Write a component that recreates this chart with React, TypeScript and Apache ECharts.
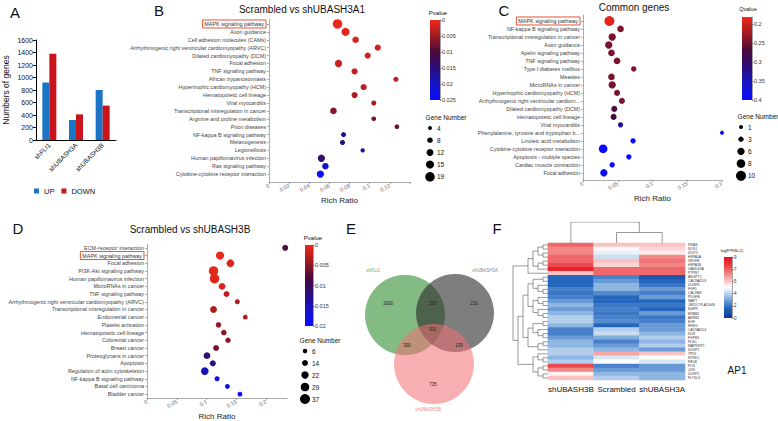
import React, { useEffect, useRef } from 'react';
import * as echarts from 'echarts';

const FONT = "'Liberation Sans', Arial, Helvetica, sans-serif";

// ---------- Panel A ----------
const aCategories = ['shFLI1', 'shUBASH3A', 'shUBASH3B'];
const aUp = [920, 320, 800];
const aDown = [1380, 410, 550];

// ---------- Panel B ----------
const bNames = [
  'MAPK signaling pathway', 'Axon guidance', 'Cell adhesion molecules (CAMs)',
  'Arrhythmogenic right ventricular cardiomyopathy (ARVC)', 'Dilated cardiomyopathy (DCM)',
  'Focal adhesion', 'TNF signaling pathway', 'African trypanosomiasis',
  'Hypertrophic cardiomyopathy (HCM)', 'Hematopoietic cell lineage', 'Viral myocarditis',
  'Transcriptional misregulation in cancer', 'Arginine and proline metabolism', 'Prion diseases',
  'NF-kappa B signaling pathway', 'Melanogenesis', 'Legionellosis',
  'Human papillomavirus infection', 'Ras signaling pathway', 'Cytokine-cytokine receptor interaction',
];
const bRich = [0.068, 0.076, 0.086, 0.108, 0.098, 0.069, 0.085, 0.126, 0.094, 0.085, 0.104, 0.064, 0.104, 0.127, 0.074, 0.073, 0.093, 0.052, 0.056, 0.051];
const bGenes = [19, 15, 11, 10, 10, 13, 10, 7, 10, 10, 7, 11, 6, 6, 7, 7, 5, 13, 11, 13];
const bPvalue = [0.0003, 0.0012, 0.0015, 0.002, 0.002, 0.0022, 0.003, 0.003, 0.0032, 0.004, 0.0045, 0.0065, 0.0075, 0.008, 0.016, 0.016, 0.017, 0.0135, 0.0205, 0.0245];
const bXTicks = [0, 0.02, 0.04, 0.06, 0.08, 0.1, 0.12, 0.14];
const bXLabels = [0, 0.02, 0.04, 0.06, 0.08, 0.1, 0.12];
const bPTicks = [0, 0.005, 0.01, 0.015, 0.02, 0.025];
const bSizeTicks = [4, 8, 12, 15, 19];

// ---------- Panel C ----------
const cNames = [
  'MAPK signaling pathway', 'NF-kappa B signaling pathway', 'Transcriptional misregulation in cancer',
  'Axon guidance', 'Apelin signaling pathway', 'TNF signaling pathway', 'Type I diabetes mellitus',
  'Measles', 'MicroRNAs in cancer', 'Hypertrophic cardiomyopathy (HCM)',
  'Arrhythmogenic right ventricular cardiom...', 'Dilated cardiomyopathy (DCM)',
  'Hematopoietic cell lineage', 'Viral myocarditis', 'Phenylalanine, tyrosine and tryptophan b...',
  'Linoleic acid metabolism', 'Cytokine-cytokine receptor interaction', 'Apoptosis - multiple species',
  'Cardiac muscle contraction', 'Focal adhesion',
];
const cRich = [0.038, 0.054, 0.042, 0.037, 0.041, 0.049, 0.073, 0.041, 0.042, 0.049, 0.056, 0.045, 0.044, 0.054, 0.2, 0.072, 0.029, 0.066, 0.042, 0.03];
const cGenes = [10, 5, 6, 6, 5, 5, 3, 5, 6, 4, 4, 4, 4, 3, 1, 3, 8, 3, 3, 6];
const cQvalue = [0.19, 0.245, 0.245, 0.245, 0.245, 0.245, 0.245, 0.245, 0.245, 0.245, 0.245, 0.27, 0.27, 0.33, 0.4, 0.4, 0.4, 0.4, 0.4, 0.4];
const cXTicks = [0, 0.05, 0.1, 0.15, 0.2];
const cQTicks = [0.2, 0.25, 0.3, 0.35, 0.4];
const cSizeTicks = [1, 3, 6, 8, 10];

// ---------- Panel D ----------
const dNames = [
  'ECM-receptor interaction', 'MAPK signaling pathway', 'Focal adhesion', 'PI3K-Akt signaling pathway',
  'Human papillomavirus infection', 'MicroRNAs in cancer', 'TNF signaling pathway',
  'Arrhythmogenic right ventricular cardiomyopathy (ARVC)', 'Transcriptional misregulation in cancer',
  'Endometrial cancer', 'Platelet activation', 'Hematopoietic cell lineage', 'Colorectal cancer',
  'Breast cancer', 'Proteoglycans in cancer', 'Apoptosis', 'Regulation of actin cytoskeleton',
  'NF-kappa B signaling pathway', 'Basal cell carcinoma', 'Bladder cancer',
];
const dRich = [0.232, 0.1226, 0.14, 0.1117, 0.1133, 0.126, 0.1335, 0.1516, 0.1117, 0.165, 0.12, 0.129, 0.136, 0.116, 0.1007, 0.1105, 0.097, 0.1177, 0.135, 0.156];
const dGenes = [14, 27, 24, 34, 34, 19, 14, 9, 19, 8, 12, 12, 11, 14, 19, 14, 24, 9, 8, 8];
const dPvalue = [0.008, 0.0003, 0.0008, 0.0006, 0.0008, 0.0012, 0.0025, 0.003, 0.0035, 0.003, 0.0045, 0.005, 0.005, 0.006, 0.011, 0.012, 0.015, 0.0175, 0.0185, 0.0195];
const dXTicks = [0, 0.05, 0.1, 0.15, 0.2];
const dPTicks = [0, 0.005, 0.01, 0.015, 0.02];
const dSizeTicks = [6, 14, 22, 29, 37];

// ---------- Panel E ----------
const vennSets = ['shFLI1', 'shUBASH3A', 'shUBASH3B'];
// FLI1 only, FLI1∩3A, 3A only, all three, FLI1∩3B, 3A∩3B, 3B only
const vennCounts = [1000, 530, 216, 911, 390, 139, 735];

// ---------- Panel F ----------
const hmColumns = ['shUBASH3B', 'Scrambled', 'shUBASH3A'];
const hmGenes = [
  'RRAS', 'SOS1', 'DDIT3', 'HSPA1A', 'VEGFB', 'HSPA1B', 'GADD45A', 'PTPN7', 'ANGPT2', 'CACNA2D3',
  'DUSP6', 'FGF5', 'CACNB3', 'PDGFB', 'MAPT', 'JMJD7-PLA2G4B', 'NGFR', 'ERBB2', 'ARRB1', 'EGF',
  'EREG', 'CACNA2D4', 'KDR', 'FGFR4', 'FLNC', 'MAPK8IP1', 'DUSP2', 'TP53', 'NTRK1', 'RELB',
  'FOS', 'JUN', 'DUSP1', 'FLT3LG',
];
const hm3B = [7, 6.5, 6.5, 7, 7, 7.5, 8.5, 5.5, 1.5, 1.5, 1.5, 2, 1.8, 2, 2.5, 3, 2.5, 3, 3.5, 3.5, 3, 2, 2, 2.5, 3, 3, 3.5, 3.5, 3, 3.5, 7.5, 6.5, 4.7, 5.5];
const hmScr = [5.5, 4.6, 4.2, 3.8, 5.5, 5.2, 7, 7, 2, 2.5, 3, 3, 2.2, 1.5, 1.5, 1.8, 2, 1.8, 2, 2.2, 1.5, 3.5, 3.8, 2.8, 2, 2.5, 3, 6, 4, 4.5, 2, 2.5, 3, 3.5];
const hm3A = [5.5, 5.2, 4.8, 6.5, 6.8, 6.5, 7, 7, 1, 1.5, 1.8, 2.5, 2, 2.5, 1.5, 1.8, 1.5, 2.5, 1.8, 2, 2.5, 2.5, 3, 3.5, 3, 3.5, 2.5, 5.5, 4.5, 4, 2.5, 2.5, 3, 3];
const hmTicks = [0, 1.8, 3.6, 5.4, 7.2, 9];
// clustering trees (leaf = row / column index)
const rowTree: any = [
  [[[[0, 1], [2, 3]], [[4, 5], 6]], 7],
  [
    [
      [[[8, 9], [10, [11, 12]]], [[13, [14, 15]], [16, [17, 18]]]],
      [[[19, 20], [21, [22, 23]]], [[24, 25], 26]],
    ],
    [[27, [28, 29]], [[30, 31], [32, 33]]],
  ],
];
const colTree: any = [0, [1, 2]];

const HIGHLIGHT = 'MAPK signaling pathway';
const PCOLORS = ['#f0281a', '#a01a22', '#4a0a3a', '#2c0c7a', '#1414c8', '#0a0aff'];
const HCOLORS = ['#0a3a8e', '#2566bd', '#8db6e2', '#ffffff', '#f5a5a5', '#ec4a4e', '#e60d1a'];

const sizeB = (g: number) => 4 + ((g - 4) / 15) * 5.5;
const sizeC = (g: number) => 4 + ((g - 1) / 9) * 6;
const sizeD = (g: number) => 4.5 + ((g - 6) / 31) * 5.5;

function buildOption() {
  const grid: any[] = [];
  const xAxis: any[] = [];
  const yAxis: any[] = [];
  const series: any[] = [];
  const visualMap: any[] = [];
  const graphic: any[] = [];

  const addGrid = (left: number, top: number, width: number, height: number) => {
    grid.push({ left, top, width, height, containLabel: false });
    return grid.length - 1;
  };
  const addText = (x: number, y: number, s: string, fontSize: number, fill = '#111') => {
    graphic.push({
      type: 'text', x, y, silent: true,
      style: { text: s, fontSize, fontFamily: FONT, fill, align: 'center', verticalAlign: 'middle', textAlign: 'center', textVerticalAlign: 'middle' },
    });
  };
  const gray = { color: '#8a8a8a', width: 0.7 };

  // ----- Panel A -----
  {
    const g = addGrid(32, 40, 84, 100);
    const xi = xAxis.length;
    xAxis.push({
      gridIndex: g, type: 'category', data: aCategories,
      axisLine: { lineStyle: { color: '#000', width: 1 } }, axisTick: { show: false },
      axisLabel: { rotate: 45, fontSize: 6.5, color: '#111', margin: 4, fontFamily: FONT, interval: 0 },
    });
    const yi = yAxis.length;
    yAxis.push({
      gridIndex: g, type: 'value', min: 0, max: 1600, interval: 200,
      name: 'Numbers of genes', nameLocation: 'middle', nameGap: 26,
      nameTextStyle: { fontSize: 8.5, color: '#111', fontFamily: FONT },
      axisLine: { show: true, lineStyle: { color: '#000', width: 1 } },
      axisTick: { show: true, length: 3, lineStyle: { color: '#000' } },
      axisLabel: { fontSize: 7, color: '#111', margin: 3, fontFamily: FONT, formatter: (v: number) => String(v) },
      splitLine: { show: false },
    });
    series.push({ type: 'bar', name: 'UP', xAxisIndex: xi, yAxisIndex: yi, data: aUp, barWidth: 7, barGap: '0%', itemStyle: { color: '#1b75c4' } });
    series.push({ type: 'bar', name: 'DOWN', xAxisIndex: xi, yAxisIndex: yi, data: aDown, barWidth: 7, barGap: '0%', itemStyle: { color: '#c9141c' } });
  }

  // ----- bubble panel helper -----
  const bubble = (p: any) => {
    const g = addGrid(p.left, p.top, p.width, p.height);
    const idx = p.names.map((_: string, i: number) => i);
    const xi = xAxis.length;
    xAxis.push({
      gridIndex: g, type: 'value', min: 0, max: p.xMax,
      name: 'Rich Ratio', nameLocation: 'middle', nameGap: 14,
      nameTextStyle: { fontSize: 8, color: '#222', fontFamily: FONT },
      axisLine: { show: true, onZero: false, lineStyle: gray },
      axisTick: { show: true, customValues: p.xTicks, length: 2, lineStyle: gray },
      axisLabel: { customValues: p.xLabels, rotate: 30, fontSize: 5.5, color: '#666', margin: 3, fontFamily: FONT },
      splitLine: { show: false },
    });
    const yi = yAxis.length;
    yAxis.push({
      gridIndex: g, type: 'value', inverse: true, min: p.yMin, max: p.yMax,
      axisLine: { show: true, onZero: false, lineStyle: gray },
      axisTick: { show: true, customValues: idx, length: 2, lineStyle: gray },
      axisLabel: {
        customValues: idx, fontSize: 5.4, lineHeight: 6, color: '#444', margin: 3, fontFamily: FONT,
        showMinLabel: true, showMaxLabel: true,
        formatter: (v: number) => {
          const n = p.names[Math.round(v)] || '';
          return n === HIGHLIGHT ? `{box|${n}}` : n;
        },
        rich: { box: { fontSize: 5.4, lineHeight: 6, color: '#333', fontFamily: FONT, borderColor: '#e0553a', borderWidth: 1, padding: [1.5, 2, 1.5, 2] } },
      },
      splitLine: { show: false },
    });
    const si = series.length;
    series.push({
      type: 'scatter', xAxisIndex: xi, yAxisIndex: yi, clip: false,
      data: p.names.map((_: string, i: number) => [p.rich[i], i, p.genes[i], p.color[i]]),
      symbolSize: (d: number[]) => p.size(d[2]),
      itemStyle: { opacity: 1 },
    });
    visualMap.push({ type: 'continuous', show: false, seriesIndex: si, dimension: 3, min: p.cMin, max: p.cMax, inRange: { color: PCOLORS } });
  };

  const colorbar = (l: number, t: number, w: number, h: number, min: number, max: number, inverse: boolean, colors: string[], ticks: number[], fmt: any, fontSize: number) => {
    const g = addGrid(l, t, w, h);
    const xi = xAxis.length;
    xAxis.push({ gridIndex: g, type: 'category', data: ['c'], show: false });
    const yi = yAxis.length;
    yAxis.push({
      gridIndex: g, type: 'value', min, max, inverse, position: 'right',
      axisLine: { show: true, onZero: false, lineStyle: { color: '#666', width: 0.6 } },
      axisTick: { show: true, customValues: ticks, length: 2, lineStyle: { color: '#666', width: 0.6 } },
      axisLabel: { customValues: ticks, formatter: fmt, fontSize, color: '#333', margin: 2, fontFamily: FONT, showMinLabel: true, showMaxLabel: true },
      splitLine: { show: false },
    });
    const ordered = inverse ? colors : [...colors].reverse();
    const stops = ordered.map((c, i) => ({ offset: i / (ordered.length - 1), color: c }));
    series.push({
      type: 'custom', xAxisIndex: xi, yAxisIndex: yi, data: [[0, min]], silent: true,
      renderItem: (params: any) => {
        const cs = params.coordSys;
        return { type: 'rect', shape: { x: cs.x, y: cs.y, width: cs.width, height: cs.height }, style: { fill: new echarts.graphic.LinearGradient(0, 0, 0, 1, stops) } };
      },
    });
  };

  const sizeLegend = (cx: number, top: number, step: number, ticks: number[], sizeFn: (g: number) => number) => {
    const n = ticks.length;
    const g = addGrid(cx - 5, top - step / 2, 10, step * n);
    const xi = xAxis.length;
    xAxis.push({ gridIndex: g, type: 'category', data: ['s'], show: false });
    const yi = yAxis.length;
    yAxis.push({ gridIndex: g, type: 'category', data: ticks.map(String), inverse: true, show: false });
    series.push({
      type: 'scatter', xAxisIndex: xi, yAxisIndex: yi,
      data: ticks.map((t, i) => [0, i, t]),
      symbolSize: (d: number[]) => sizeFn(d[2]),
      itemStyle: { color: '#000', opacity: 1 },
      label: { show: true, position: 'inside', align: 'left', offset: [7, 0], formatter: (q: any) => String(q.value[2]), fontSize: 6.5, color: '#111', fontFamily: FONT },
    });
  };

  // ----- Panel B -----
  bubble({ names: bNames, rich: bRich, genes: bGenes, color: bPvalue, left: 269, top: 19, width: 141, height: 163, yMin: -0.63, yMax: 20, xMax: 0.14, xTicks: bXTicks, xLabels: bXLabels, cMin: 0, cMax: 0.025, size: sizeB });
  colorbar(430, 20, 10, 80, 0, 0.025, true, PCOLORS, bPTicks, (v: number) => String(+v.toFixed(3)), 5.5);
  addText(438, 13, 'Pvalue', 6);
  sizeLegend(430, 128, 12.2, bSizeTicks, sizeB);
  addText(446, 117, 'Gene Number', 6.5);

  // ----- Panel C -----
  bubble({ names: cNames, rich: cRich, genes: cGenes, color: cQvalue, left: 583, top: 15, width: 139, height: 165, yMin: -0.75, yMax: 19.9, xMax: 0.2, xTicks: cXTicks, xLabels: cXTicks, cMin: 0.182, cMax: 0.4, size: sizeC });
  colorbar(742, 17, 10, 83, 0.182, 0.4, true, PCOLORS, cQTicks, (v: number) => String(+v.toFixed(2)), 5.5);
  addText(748, 9, 'Qvalue', 5.5);
  sizeLegend(741, 127, 12.2, cSizeTicks, sizeC);
  addText(758, 116, 'Gene Number', 6.5);

  // ----- Panel D -----
  bubble({ names: dNames, rich: dRich, genes: dGenes, color: dPvalue, left: 147, top: 244, width: 140, height: 157, yMin: -0.5, yMax: 19.5, xMax: 0.235, xTicks: dXTicks, xLabels: dXTicks, cMin: 0, cMax: 0.02, size: sizeD });
  colorbar(305, 245, 8, 81, 0, 0.02, true, PCOLORS, dPTicks, (v: number) => String(+v.toFixed(3)), 5.5);
  addText(313, 238, 'Pvalue', 6);
  sizeLegend(305, 351, 12, dSizeTicks, sizeD);
  addText(320, 340, 'Gene Number', 6.5);

  // ----- Panel F heatmap -----
  {
    const g = addGrid(548, 243, 137, 137);
    const xi = xAxis.length;
    xAxis.push({
      gridIndex: g, type: 'category', data: hmColumns,
      axisLine: { show: false }, axisTick: { show: false },
      axisLabel: { fontSize: 8, color: '#111', margin: 5, fontFamily: FONT, interval: 0 },
    });
    const yi = yAxis.length;
    yAxis.push({
      gridIndex: g, type: 'category', data: hmGenes, inverse: true, position: 'right',
      axisLine: { show: false }, axisTick: { show: false },
      axisLabel: { fontSize: 3.4, color: '#333', margin: 3, fontFamily: FONT, interval: 0 },
    });
    const data: number[][] = [];
    const cols = [hm3B, hmScr, hm3A];
    cols.forEach((col, c) => col.forEach((v, r) => data.push([c, r, v])));
    const si = series.length;
    series.push({ type: 'heatmap', xAxisIndex: xi, yAxisIndex: yi, data, itemStyle: { borderWidth: 0 } });
    visualMap.push({ type: 'continuous', show: false, seriesIndex: si, dimension: 2, min: 0, max: 9, inRange: { color: HCOLORS } });
  }
  colorbar(724, 257, 8, 61, 0, 9, false, HCOLORS, hmTicks, (v: number) => String(Math.round(v)), 4.5);
  addText(732, 251, 'log(FPKM+1)', 3.8);
  addText(737, 370, 'AP1', 10);

  // dendrograms
  const dendro = (tree: any, swap: boolean) => {
    const segs: number[][][] = [];
    const rec = (node: any): { pos: number; h: number } => {
      if (typeof node === 'number') return { pos: node + 0.5, h: 0 };
      const a = rec(node[0]);
      const b = rec(node[1]);
      const h = Math.max(a.h, b.h) + 1;
      const pts = [[a.h, a.pos], [h, a.pos], [h, b.pos], [b.h, b.pos]];
      segs.push(swap ? pts.map(([x, y]) => [y, x]) : pts);
      return { pos: (a.pos + b.pos) / 2, h };
    };
    const root = rec(tree);
    return { segs, h: root.h };
  };
  {
    const d = dendro(rowTree, false);
    const g = addGrid(513, 243, 35, 137);
    const xi = xAxis.length;
    xAxis.push({ gridIndex: g, type: 'value', min: 0, max: d.h, inverse: true, show: false });
    const yi = yAxis.length;
    yAxis.push({ gridIndex: g, type: 'value', min: 0, max: hmGenes.length, inverse: true, show: false });
    series.push({ type: 'lines', coordinateSystem: 'cartesian2d', xAxisIndex: xi, yAxisIndex: yi, polyline: true, silent: true, data: d.segs.map((c) => ({ coords: c })), lineStyle: { color: '#555', width: 0.6, opacity: 1 } });
  }
  {
    const d = dendro(colTree, true);
    const g = addGrid(548, 222, 137, 21);
    const xi = xAxis.length;
    xAxis.push({ gridIndex: g, type: 'value', min: 0, max: hmColumns.length, show: false });
    const yi = yAxis.length;
    yAxis.push({ gridIndex: g, type: 'value', min: 0, max: d.h, show: false });
    series.push({ type: 'lines', coordinateSystem: 'cartesian2d', xAxisIndex: xi, yAxisIndex: yi, polyline: true, silent: true, data: d.segs.map((c) => ({ coords: c })), lineStyle: { color: '#555', width: 0.6, opacity: 1 } });
  }

  // ----- Panel E Venn -----
  const circles = [
    { cx: 405, cy: 315, r: 40, fill: 'rgba(50,140,50,0.6)', label: [373, 270], color: '#6aaa6a' },
    { cx: 455, cy: 313, r: 39, fill: 'rgba(40,40,40,0.6)', label: [485, 270], color: '#8a8a8a' },
    { cx: 434, cy: 364, r: 40, fill: 'rgba(240,110,115,0.55)', label: [428, 409], color: '#f08a8a' },
  ];
  circles.forEach((c, i) => {
    graphic.push({ type: 'circle', shape: { cx: c.cx, cy: c.cy, r: c.r }, style: { fill: c.fill }, silent: true });
    addText(c.label[0], c.label[1], vennSets[i], 4.5, c.color);
  });
  const vennPos = [[388, 303], [433, 303], [474, 303], [433, 329], [407, 345], [459, 345], [433, 384]];
  vennCounts.forEach((v, i) => addText(vennPos[i][0], vennPos[i][1], String(v), 4.5, '#222'));

  // ----- panel letters & titles -----
  addText(15, 12, 'A', 15);
  addText(159, 10, 'B', 15);
  addText(504, 10, 'C', 15);
  addText(18, 228, 'D', 15);
  addText(351, 228, 'E', 15);
  addText(497, 228, 'F', 15);
  addText(302, 9, 'Scrambled vs shUBASH3A1', 10);
  addText(634, 7, 'Common genes', 10);
  addText(190, 229, 'Scrambled vs shUBASH3B', 10);

  return {
    animation: false,
    backgroundColor: '#fff',
    textStyle: { fontFamily: FONT },
    legend: {
      data: ['UP', 'DOWN'], left: 29, top: 182, itemWidth: 5, itemHeight: 5, itemGap: 7, icon: 'rect',
      textStyle: { fontSize: 7.5, color: '#111', fontFamily: FONT },
    },
    grid, xAxis, yAxis, series, visualMap, graphic,
  };
}

export default function App() {
  const ref = useRef<HTMLDivElement>(null);
  useEffect(() => {
    if (!ref.current) return;
    const chart = echarts.init(ref.current, undefined, { renderer: 'svg' });
    chart.setOption(buildOption() as any);
    return () => chart.dispose();
  }, []);
  return <div ref={ref} style={{ position: 'absolute', left: 0, top: 0, width: 778, height: 421, background: '#fff' }} />;
}
